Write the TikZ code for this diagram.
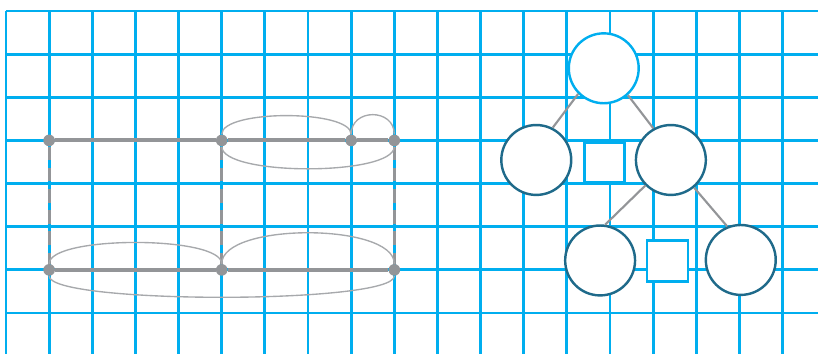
\documentclass[tikz,border=0pt]{standalone}
\definecolor{gridblue}{HTML}{00AEEF}
\definecolor{edgegray}{HTML}{939598}
\definecolor{arcgray}{HTML}{A7A9AC}
\definecolor{ringblue}{HTML}{1F6A8A}
\begin{document}
\begin{tikzpicture}[
  gridline/.style={gridblue, line width=1.9pt},
  dot/.style={circle, fill=edgegray, inner sep=0pt, minimum size=0.27cm},
  thick edge/.style={edgegray, line width=2.6pt},
  dash edge/.style={edgegray, line width=2pt, dash pattern=on 9pt off 5pt},
  thin arc/.style={arcgray, line width=0.9pt},
  ring/.style={circle, draw=ringblue, line width=1.6pt, fill=white, minimum size=1.62cm, inner sep=0pt},
  box/.style={rectangle, draw=gridblue, line width=1.7pt, fill=white, minimum size=0.93cm, inner sep=0pt},
  link/.style={edgegray, line width=1.4pt}]
  \useasboundingbox (-0.139,0.255) rectangle (18.82,-7.95);
  % grid
  \foreach \x in {0,...,18}
    \draw[gridline] (\x,0) -- (\x,-7.95);
  \foreach \y in {0,...,7}
    \draw[gridline] (0,-\y) -- (18.82,-\y);

  % left graph
  \node[dot] (a1) at (1,-3) {};
  \node[dot] (a5) at (5,-3) {};
  \node[dot] (a8) at (8,-3) {};
  \node[dot] (a9) at (9,-3) {};
  \node[dot] (b1) at (1,-6) {};
  \node[dot] (b5) at (5,-6) {};
  \node[dot] (b9) at (9,-6) {};
  \draw[dash edge] (a1) -- (b1);
  \draw[dash edge] (a5) -- (b5);
  \draw[dash edge] (a9) -- (b9);
  \draw[thick edge] (a1) -- (a5) -- (a8) -- (a9);
  \draw[thick edge] (b1) -- (b5) -- (b9);
  \draw[thin arc] (a5) .. controls +(0,0.72) and +(0,0.72) .. (a8);
  \draw[thin arc] (a5) .. controls +(0,-0.83) and +(0,-0.83) .. (a9);
  \draw[thin arc] (a8) .. controls +(0,0.75) and +(0,0.75) .. (a9);
  \draw[thin arc] (b1) .. controls +(0,0.8) and +(0,0.8) .. (b5);
  \draw[thin arc] (b5) .. controls +(0,1.1) and +(0,1.1) .. (b9);
  \draw[thin arc] (b1) .. controls +(0,-0.8) and +(0,-0.8) .. (b9);

  % right tree
  \node[ring, draw=gridblue] (top) at (13.854,-1.328) {};
  \node[ring] (ml) at (12.29,-3.453) {};
  \node[ring] (mr) at (15.41,-3.453) {};
  \node[box] (sq1) at (13.87,-3.516) {};
  \node[ring] (bl) at (13.77,-5.782) {};
  \node[ring] (br) at (17.03,-5.77) {};
  \node[box, minimum size=0.95cm] (sq2) at (15.33,-5.794) {};
  \draw[link] (top.225) -- (ml.63);
  \draw[link] (top.-48) -- (mr.119);
  \draw[link] (mr.225) -- (bl.82);
  \draw[link] (mr.-50) -- (br.112);
\end{tikzpicture}
\end{document}
